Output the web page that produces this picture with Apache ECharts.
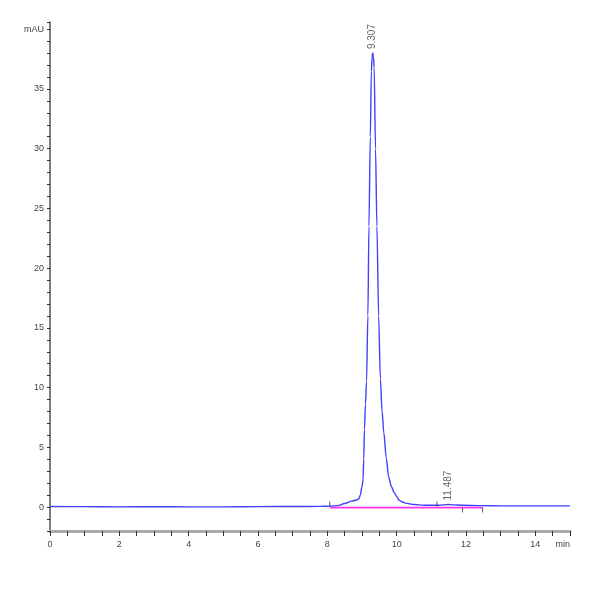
<!DOCTYPE html>
<html>
<head>
<meta charset="utf-8">
<script src="https://cdn.jsdelivr.net/npm/echarts@6/dist/echarts.min.js"></script>
<style>
  html, body { margin: 0; padding: 0; background: #fff; }
  #main { width: 600px; height: 600px; }
</style>
</head>
<body>
<div id="main"></div>
<script>
// retention time (min) and absorbance (mAU)
var times = [0, 1, 2, 3, 4, 5, 6, 7, 7.8, 8.07, 8.3, 8.5, 8.7, 8.85, 8.91, 8.95, 9.0, 9.03, 9.05, 9.07, 9.1, 9.13, 9.17, 9.2, 9.24, 9.27, 9.29, 9.307, 9.33, 9.35, 9.39, 9.43, 9.48, 9.53, 9.58, 9.63, 9.7, 9.77, 9.85, 9.93, 10.0, 10.06, 10.15, 10.25, 10.5, 10.8, 11.16, 11.35, 11.487, 11.65, 11.9, 12.48, 13, 14, 15];
var mAU = [0.05, 0.04, 0.02, 0.03, 0.02, 0.02, 0.04, 0.05, 0.06, 0.08, 0.12, 0.3, 0.5, 0.6, 0.7, 1.0, 1.7, 2.3, 4.0, 6.5, 8.6, 10.5, 16, 23.5, 31, 36.5, 37.6, 38.0, 37.7, 36.8, 30, 23.5, 16, 10.7, 8.0, 6.2, 4.1, 2.5, 1.7, 1.2, 0.9, 0.6, 0.45, 0.33, 0.22, 0.16, 0.15, 0.19, 0.22, 0.19, 0.15, 0.12, 0.1, 0.1, 0.1];

// peaks: retention time and apex height
var peakTimes = [9.307, 11.487];
var peakHeights = [38.0, 0.22];

// integration baselines (start, end) and their tick marks
var baseStart = [8.07, 11.16];
var baseEnd = [11.9, 12.48];

var trace = times.map(function (t, i) { return [t, mAU[i]]; });
var baseline = [];
for (var i = 0; i < baseStart.length; i++) {
    baseline.push([baseStart[i], -0.05], [baseEnd[i], -0.05], [baseEnd[i], null]);
}
var tickUp = baseStart.map(function (t) { return [t, 0]; });
var tickDown = baseEnd.map(function (t) { return [t, 0]; });
var peaks = peakTimes.map(function (t, i) { return [t, peakHeights[i]]; });

var myChart = echarts.init(document.getElementById('main'));
var labelFont = { color: '#444', fontSize: 9, fontFamily: 'Liberation Sans Narrow, Liberation Sans, sans-serif' };

option = {
    animation: false,
    grid: { left: 50, right: 30, top: 22, bottom: 69 },
    xAxis: {
        type: 'value',
        min: 0,
        max: 15,
        interval: 0.5,
        axisLine: { onZero: false, lineStyle: { color: '#aaa', width: 3 } },
        axisTick: { length: 5, lineStyle: { color: '#333', width: 1 } },
        axisLabel: Object.assign({
            margin: 9,
            alignMaxLabel: 'right',
            formatter: function (v) {
                if (v === 15) return 'min';
                return (v % 2 === 0) ? String(v) : '';
            }
        }, labelFont),
        splitLine: { show: false }
    },
    yAxis: {
        type: 'value',
        min: -2,
        max: 40.6,
        interval: 1,
        axisLine: { show: true, lineStyle: { color: '#555', width: 1.5 } },
        axisTick: { length: 3, lineStyle: { color: '#333', width: 1 } },
        axisLabel: Object.assign({
            margin: 6,
            formatter: function (v) {
                if (v === 40) return 'mAU';
                return (v >= 0 && v % 5 === 0) ? String(v) : '';
            }
        }, labelFont),
        splitLine: { show: false }
    },
    series: [
        {
            type: 'line',
            data: baseline,
            connectNulls: false,
            symbol: 'none',
            lineStyle: { color: '#ff33ee', width: 1.8 },
            z: 2
        },
        {
            type: 'line',
            data: trace,
            symbol: 'none',
            smooth: 0.3,
            smoothMonotone: 'x',
            lineStyle: { color: '#4040ff', width: 1.4 },
            z: 3
        },
        {
            type: 'scatter',
            data: tickUp,
            symbol: 'rect',
            symbolSize: [1, 5],
            symbolOffset: [0, -3],
            itemStyle: { color: '#333' },
            z: 4
        },
        {
            type: 'scatter',
            data: tickDown,
            symbol: 'rect',
            symbolSize: [1, 5],
            symbolOffset: [0, 3],
            itemStyle: { color: '#333' },
            z: 4
        },
        {
            type: 'scatter',
            data: peaks,
            symbolSize: 0,
            label: Object.assign({
                show: true,
                position: 'top',
                distance: 4,
                rotate: 90,
                align: 'left',
                verticalAlign: 'middle',
                formatter: function (p) { return p.value[0].toFixed(3); }
            }, labelFont, { fontSize: 10, color: '#444' }),
            z: 5
        }
    ]
};
myChart.setOption(option);
</script>
</body>
</html>
